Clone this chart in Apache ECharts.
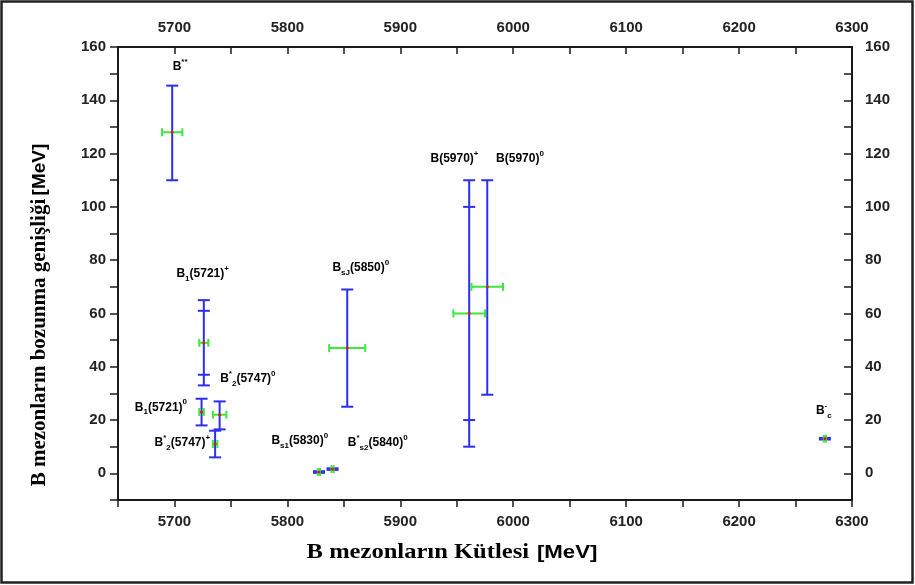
<!DOCTYPE html>
<html>
<head>
<meta charset="utf-8">
<style>
html, body { margin: 0; padding: 0; background: #fff; }
#chart { width: 915px; height: 585px; }
</style>
<script src="https://cdn.jsdelivr.net/npm/echarts@6/dist/echarts.min.js"></script>
</head>
<body>
<div id="chart"></div>
<script>
// mezon adlari: _{..} alt indis, ^{..} ust indis
var names = ['B^{**}', 'B_{1}(5721)^{+}', 'B_{1}(5721)^{0}', 'B^{*}_{2}(5747)^{0}', 'B^{*}_{2}(5747)^{+}',
    'B_{s1}(5830)^{0}', 'B^{*}_{s2}(5840)^{0}', 'B_{sJ}(5850)^{0}', 'B(5970)^{+}', 'B(5970)^{0}', 'B^{-}_{c}'];
// kutle [MeV] ve hatasi
var mass = [5698, 5726, 5724, 5740, 5736, 5828, 5840, 5853, 5961, 5977, 6276];
var massErr = [9, 4, 2, 6, 2, 1, 1, 16, 14, 14, 1];
// bozunma genisligi [MeV] ve hatalari
var width = [128, 49, 23, 22, 11, 0.5, 1.6, 47, 60, 70, 13];
var widthErrUp = [17.5, 16, 5, 5, 5, 0.3, 0.3, 22, 50, 40, 0.3];
var widthErrDown = [18, 16, 5, 5.5, 5, 0.3, 0.3, 22, 50, 40.5, 0.3];
var widthErrInner = [0, 12, 0, 0, 0, 0, 0, 0, 40, 0, 0];
// etiketlerin yeri (veri koordinatlari)
var labelX = [5705, 5725, 5688, 5765, 5707, 5811, 5880, 5865, 5948, 6006, 6275];
var labelY = [152.7, 75, 24.8, 35.6, 11.6, 12.4, 11.6, 77.3, 118.2, 118.2, 23.6];

var chart = echarts.init(document.getElementById('chart'));

var BLUE = '#2e2ef2';
var GREEN = '#3ee63e';
var SANS = '"Liberation Sans", Arial, sans-serif';
var SERIF = '"Liberation Serif", "Times New Roman", serif';

function toRich(s) {
    var out = '';
    s.replace(/([_^])\{([^}]*)\}|([^_^]+)/g, function (m, k, v, plain) {
        if (plain) out += '{n|' + plain + '}';
        else out += '{' + (k === '_' ? 'sub' : 'sup') + '|' + v + '}';
        return m;
    });
    return out;
}

function seg(x1, y1, x2, y2, color) {
    return {
        type: 'line',
        shape: { x1: x1, y1: y1, x2: x2, y2: y2 },
        style: { stroke: color, lineWidth: 2 }
    };
}

function renderErrorBar(params, api) {
    var m = api.value(0), w = api.value(1), dm = api.value(2);
    var up = api.value(3), dn = api.value(4), inner = api.value(5);
    var c = api.coord([m, w]);
    var top = api.coord([m, w + up]);
    var bot = api.coord([m, w - dn]);
    var l = api.coord([m - dm, w]);
    var r = api.coord([m + dm, w]);
    var cap = 6, gcap = 4;
    var kids = [
        seg(c[0], top[1], c[0], bot[1], BLUE),
        seg(c[0] - cap, top[1], c[0] + cap, top[1], BLUE),
        seg(c[0] - cap, bot[1], c[0] + cap, bot[1], BLUE)
    ];
    if (inner) {
        var it = api.coord([m, w + inner]), ib = api.coord([m, w - inner]);
        kids.push(seg(c[0] - cap, it[1], c[0] + cap, it[1], BLUE));
        kids.push(seg(c[0] - cap, ib[1], c[0] + cap, ib[1], BLUE));
    }
    kids.push(seg(l[0], c[1], r[0], c[1], GREEN));
    kids.push(seg(l[0], c[1] - gcap, l[0], c[1] + gcap, GREEN));
    kids.push(seg(r[0], c[1] - gcap, r[0], c[1] + gcap, GREEN));
    kids.push({
        type: 'circle',
        shape: { cx: c[0], cy: c[1], r: 1.6 },
        style: { fill: '#d42020' }
    });
    return { type: 'group', children: kids };
}

var labelRich = {
    n: { fontSize: 12, fontWeight: 'bold', color: '#555', fontFamily: SANS, lineHeight: 18, verticalAlign: 'middle' },
    sub: { fontSize: 8, fontWeight: 'bold', color: '#555', fontFamily: SANS, verticalAlign: 'bottom', padding: [6, 0, 0, 0] },
    sup: { fontSize: 8, fontWeight: 'bold', color: '#555', fontFamily: SANS, verticalAlign: 'top', padding: [0, 0, 6, 0] }
};

function renderLabel(params, api) {
    var p = api.coord([api.value(0), api.value(1)]);
    return {
        type: 'text',
        x: p[0],
        y: p[1],
        style: {
            text: toRich(names[params.dataIndex]),
            rich: labelRich,
            align: 'center',
            verticalAlign: 'middle'
        }
    };
}

var barData = mass.map(function (m, i) {
    return [m, width[i], massErr[i], widthErrUp[i], widthErrDown[i], widthErrInner[i]];
});
var labelData = labelX.map(function (x, i) { return [x, labelY[i]]; });

var axisLineStyle = { color: '#1a1a1a', width: 2 };
var tickStyle = { color: '#1a1a1a', width: 1.5 };
var tickFont = { fontSize: 15, fontWeight: 'bold', color: '#222', fontFamily: SANS };

function xFmt(v) { return v % 100 === 0 ? v : ''; }
function yFmt(v) { return v % 20 === 0 ? v : ''; }

var titleRich = {
    s: { fontFamily: SERIF, fontWeight: 'bold', fontSize: 21, color: '#111' },
    a: { fontFamily: SANS, fontWeight: 'bold', fontSize: 19, color: '#111' }
};

var option = {
    animation: false,
    backgroundColor: '#fff',
    grid: { left: 118, right: 63, top: 47, bottom: 85 },
    graphic: [{
        type: 'rect',
        shape: { x: 1.5, y: 1.5, width: 911, height: 581 },
        style: { fill: 'none', stroke: '#222', lineWidth: 2.5 }
    }, {
        // x ekseni basligi
        type: 'text',
        x: 452, y: 553, scaleX: 1.17,
        style: {
            text: '{s|B mezonların Kütlesi}  {a|[MeV]}',
            rich: titleRich, align: 'center', verticalAlign: 'middle'
        }
    }, {
        // y ekseni basligi
        type: 'text',
        x: 40, y: 315, rotation: Math.PI / 2,
        style: {
            text: '{s|B mezonların bozunma genişliği} {a|[MeV]}',
            rich: titleRich, align: 'center', verticalAlign: 'middle'
        }
    }],
    xAxis: [{
        type: 'value', position: 'bottom', min: 5650, max: 6300, interval: 50,
        axisLine: { onZero: false, lineStyle: axisLineStyle },
        axisTick: { inside: false, length: 7, lineStyle: tickStyle },
        axisLabel: Object.assign({ margin: 14, formatter: xFmt }, tickFont),
        splitLine: { show: false }
    }, {
        type: 'value', position: 'top', min: 5650, max: 6300, interval: 50,
        axisLine: { onZero: false, lineStyle: axisLineStyle },
        axisTick: { inside: true, length: 7, lineStyle: tickStyle },
        axisLabel: Object.assign({ margin: 12, formatter: xFmt }, tickFont),
        splitLine: { show: false }
    }],
    yAxis: [{
        type: 'value', position: 'left', min: -10, max: 160, interval: 10,
        axisLine: { onZero: false, lineStyle: axisLineStyle },
        axisTick: { inside: false, length: 8, lineStyle: tickStyle },
        axisLabel: Object.assign({ margin: 12, formatter: yFmt }, tickFont),
        splitLine: { show: false }
    }, {
        type: 'value', position: 'right', min: -10, max: 160, interval: 10,
        axisLine: { onZero: false, lineStyle: axisLineStyle },
        axisTick: { inside: true, length: 8, lineStyle: tickStyle },
        axisLabel: Object.assign({ margin: 13, formatter: yFmt }, tickFont),
        splitLine: { show: false }
    }],
    series: [{
        type: 'custom',
        renderItem: renderErrorBar,
        data: barData,
        encode: { x: 0, y: 1 },
        silent: true
    }, {
        type: 'custom',
        renderItem: renderLabel,
        data: labelData,
        encode: { x: 0, y: 1 },
        silent: true
    }]
};

chart.setOption(option);
</script>
</body>
</html>
